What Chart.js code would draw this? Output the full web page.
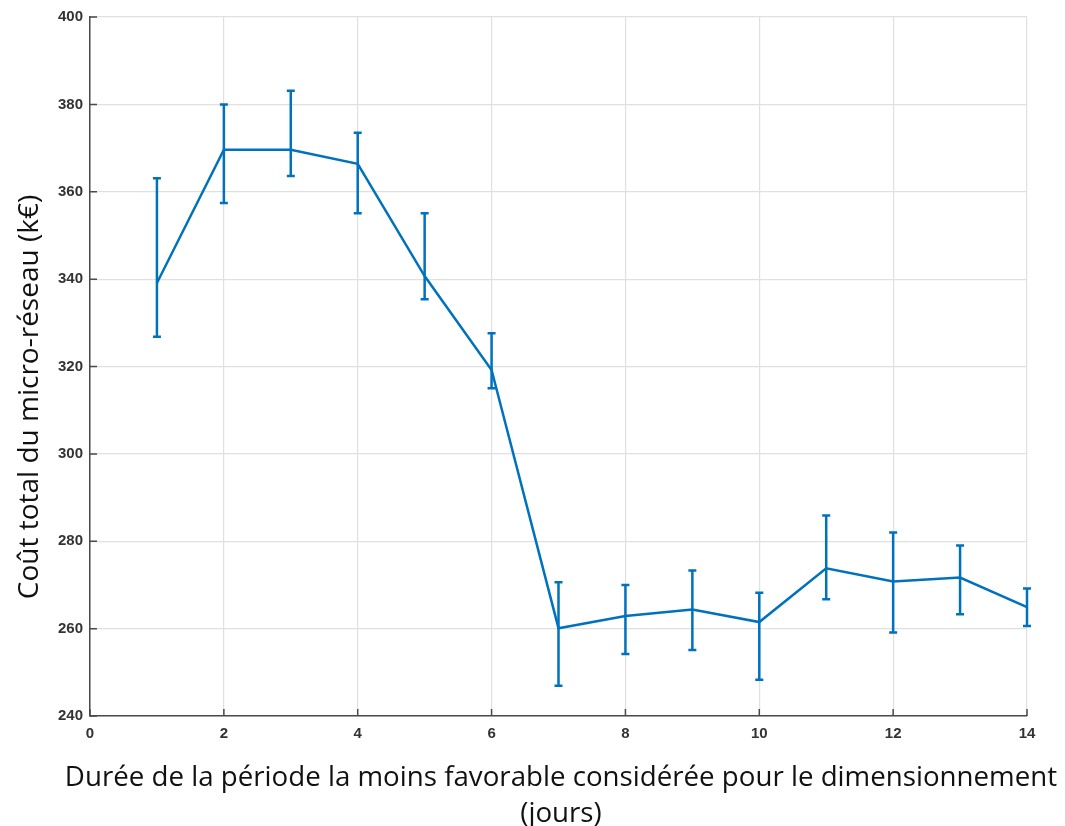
<!DOCTYPE html>
<html>
<head>
<meta charset="utf-8">
<script src="https://cdn.jsdelivr.net/npm/chart.js@4.4.1/dist/chart.umd.min.js"></script>
<style>
  html, body { margin: 0; padding: 0; background: #ffffff; }
  #wrap { width: 1065px; height: 826px; position: relative; }
</style>
</head>
<body>
<div id="wrap"><canvas id="c"></canvas></div>
<script>
// ---- data ----
const days = [1, 2, 3, 4, 5, 6, 7, 8, 9, 10, 11, 12, 13, 14];
const meanCost = [339.1, 369.6, 369.6, 366.4, 340.7, 319.2, 260.1, 262.9, 264.4, 261.5, 273.8, 270.8, 271.7, 264.9];
const upperCost = [363.1, 380.0, 383.1, 373.5, 355.1, 327.6, 270.6, 270.0, 273.3, 268.2, 285.9, 282.0, 279.0, 269.2];
const lowerCost = [326.8, 357.4, 363.6, 355.1, 335.4, 315.0, 246.9, 254.2, 255.1, 248.3, 266.7, 259.1, 263.3, 260.6];
const xTicks = [0, 2, 4, 6, 8, 10, 12, 14];
const yTicks = [240, 260, 280, 300, 320, 340, 360, 380, 400];
const yTitle = 'Coût total du micro-réseau (k€)';
const xTitleLines = ['Durée de la période la moins favorable considérée pour le dimensionnement', '(jours)'];

const BLUE = '#0072BD';
const AXIS = '#4a4a4a';
const GRID = '#e0e0e0';

const points = days.map((d, i) => ({ x: d, y: meanCost[i] }));

const errorBars = {
  id: 'errorBars',
  afterDatasetsDraw(chart) {
    const { ctx, scales } = chart;
    const xs = scales.x, ys = scales.y;
    ctx.save();
    ctx.strokeStyle = BLUE;
    ctx.lineWidth = 2.5;
    const cap = 4;
    days.forEach((d, i) => {
      const px = xs.getPixelForValue(d);
      const top = ys.getPixelForValue(upperCost[i]);
      const bot = ys.getPixelForValue(lowerCost[i]);
      ctx.beginPath();
      ctx.moveTo(px, top); ctx.lineTo(px, bot);
      ctx.moveTo(px - cap, top); ctx.lineTo(px + cap, top);
      ctx.moveTo(px - cap, bot); ctx.lineTo(px + cap, bot);
      ctx.stroke();
    });
    ctx.restore();
  }
};

const innerTicks = {
  id: 'innerTicks',
  afterDraw(chart) {
    const { ctx, scales, chartArea } = chart;
    ctx.save();
    ctx.strokeStyle = AXIS;
    ctx.lineWidth = 1.5;
    const len = 7;
    ctx.beginPath();
    scales.x.ticks.forEach(t => {
      const px = scales.x.getPixelForValue(t.value);
      ctx.moveTo(px, chartArea.bottom); ctx.lineTo(px, chartArea.bottom - len);
    });
    scales.y.ticks.forEach(t => {
      const py = scales.y.getPixelForValue(t.value);
      ctx.moveTo(chartArea.left, py); ctx.lineTo(chartArea.left + len, py);
    });
    ctx.stroke();
    ctx.restore();
  }
};

const titles = {
  id: 'titles',
  afterDraw(chart) {
    const { ctx } = chart;
    ctx.save();
    ctx.fillStyle = '#111111';
    ctx.textAlign = 'center';
    ctx.textBaseline = 'alphabetic';
    ctx.font = '27.7px "Open Sans", "Noto Sans", sans-serif';
    const cx = 561;
    ctx.fillText(xTitleLines[0], cx, 786);
    ctx.fillText(xTitleLines[1], cx, 822);
    ctx.font = '28px "Open Sans", "Noto Sans", sans-serif';
    ctx.translate(38, 397);
    ctx.rotate(-Math.PI / 2);
    ctx.fillText(yTitle, 0, 0);
    ctx.restore();
  }
};

const tickFont = { family: '"Liberation Sans", Arial, sans-serif', size: 15, weight: 'bold' };

new Chart(document.getElementById('c'), {
  type: 'scatter',
  data: {
    datasets: [{
      data: points,
      showLine: true,
      borderColor: BLUE,
      backgroundColor: BLUE,
      borderWidth: 2.5,
      pointRadius: 0,
      pointHoverRadius: 0,
      tension: 0
    }]
  },
  options: {
    responsive: true,
    maintainAspectRatio: false,
    animation: false,
    layout: { padding: { top: 17, right: 38, left: 0, bottom: 0 } },
    plugins: { legend: { display: false }, tooltip: { enabled: false }, title: { display: false } },
    scales: {
      x: {
        type: 'linear',
        min: 0, max: 14,
        afterBuildTicks(scale) { scale.ticks = xTicks.map(v => ({ value: v })); },
        afterFit(scale) { scale.height = 110; },
        ticks: { font: tickFont, color: '#333333', padding: 9, maxRotation: 0 },
        grid: { color: GRID, lineWidth: 1.2, drawTicks: false },
        border: { color: AXIS, width: 1.5 }
      },
      y: {
        type: 'linear',
        min: 240, max: 400,
        afterBuildTicks(scale) { scale.ticks = yTicks.map(v => ({ value: v })); },
        afterFit(scale) { scale.width = 90; },
        ticks: { font: tickFont, color: '#333333', padding: 7 },
        grid: { color: GRID, lineWidth: 1.2, drawTicks: false },
        border: { color: AXIS, width: 1.5 }
      }
    }
  },
  plugins: [errorBars, innerTicks, titles]
});
</script>
</body>
</html>
